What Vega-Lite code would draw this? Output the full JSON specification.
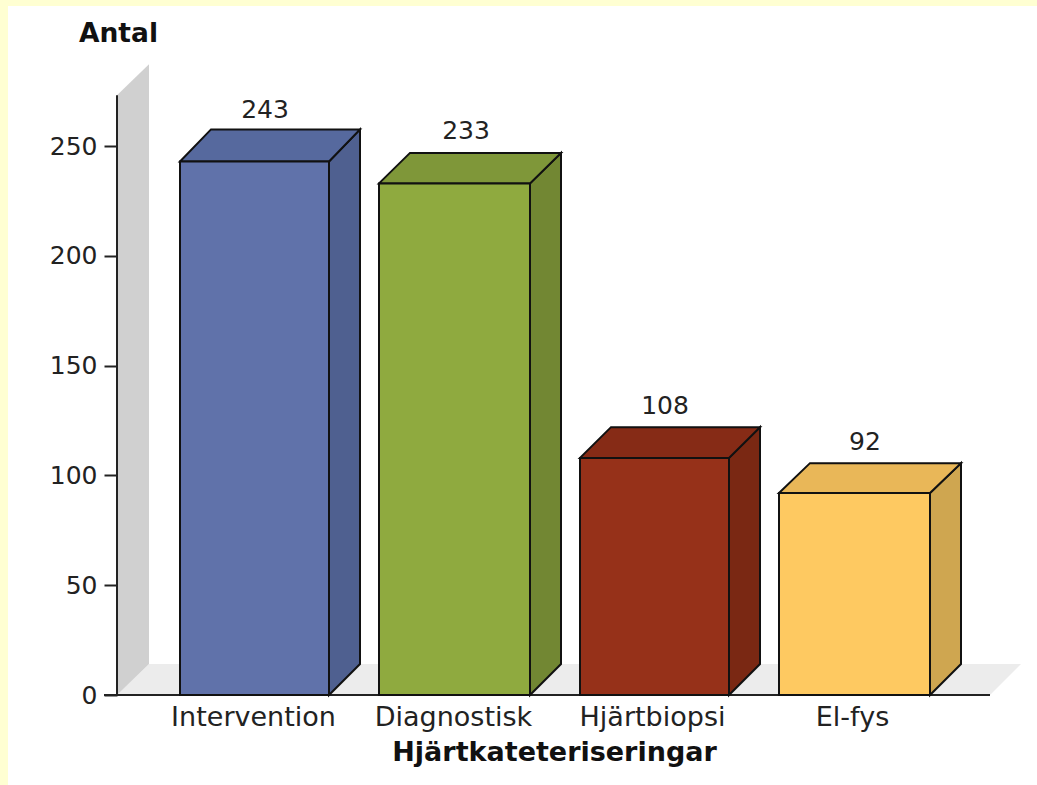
{
"$schema":"https://vega.github.io/schema/vega-lite/v6.json",
"width":1037,"height":785,"padding":0,"autosize":{"type":"none"},
"background":"#FFFFD2",
"config":{"view":{"stroke":null},"font":"DejaVu Sans"},
"datasets":{
"ram":[{"x":8,"x2":1037,"y":313.8,"y2":-41}],
"ytor":[
{"yta":"Golv","x":117,"u":0,"l":0},{"yta":"Golv","x":149,"u":14.1,"l":0},{"yta":"Golv","x":990,"u":14.1,"l":0},{"yta":"Golv","x":1021,"u":14.1,"l":14.1},
{"yta":"Vägg","x":117,"u":273.2,"l":0},{"yta":"Vägg","x":149,"u":287.3,"l":14.1}
],
"linjer":[{"x":117,"x2":117,"y":0,"y2":273.2},{"x":104,"x2":990,"y":0,"y2":0}],
"sidor":[
{"yta":"Intervention sida","x":329,"u":243,"l":0},{"yta":"Intervention sida","x":360,"u":257.6,"l":14.1},
{"yta":"Diagnostisk sida","x":530,"u":233,"l":0},{"yta":"Diagnostisk sida","x":561,"u":246.9,"l":14.1},
{"yta":"Hjärtbiopsi sida","x":729,"u":108,"l":0},{"yta":"Hjärtbiopsi sida","x":760,"u":122,"l":14.1},
{"yta":"El-fys sida","x":930,"u":92,"l":0},{"yta":"El-fys sida","x":961,"u":105.6,"l":14.1},
{"yta":"Intervention topp","x":180,"u":243,"l":243},{"yta":"Intervention topp","x":211,"u":257.6,"l":243},{"yta":"Intervention topp","x":329,"u":257.6,"l":243},{"yta":"Intervention topp","x":360,"u":257.6,"l":257.6},
{"yta":"Diagnostisk topp","x":379,"u":233,"l":233},{"yta":"Diagnostisk topp","x":410,"u":246.9,"l":233},{"yta":"Diagnostisk topp","x":530,"u":246.9,"l":233},{"yta":"Diagnostisk topp","x":561,"u":246.9,"l":246.9},
{"yta":"Hjärtbiopsi topp","x":580,"u":108,"l":108},{"yta":"Hjärtbiopsi topp","x":611,"u":122,"l":108},{"yta":"Hjärtbiopsi topp","x":729,"u":122,"l":108},{"yta":"Hjärtbiopsi topp","x":760,"u":122,"l":122},
{"yta":"El-fys topp","x":779,"u":92,"l":92},{"yta":"El-fys topp","x":810,"u":105.6,"l":92},{"yta":"El-fys topp","x":930,"u":105.6,"l":92},{"yta":"El-fys topp","x":961,"u":105.6,"l":105.6}
],
"staplar":[
{"kategori":"Intervention","antal":243,"bas":0,"x0":180,"x1":329,"mitt":265,"topp":257.6},
{"kategori":"Diagnostisk","antal":233,"bas":0,"x0":379,"x1":530,"mitt":466,"topp":248},
{"kategori":"Hjärtbiopsi","antal":108,"bas":0,"x0":580,"x1":729,"mitt":665,"topp":123},
{"kategori":"El-fys","antal":92,"bas":0,"x0":779,"x1":930,"mitt":865,"topp":106.6}
]
},
"layer":[
{"data":{"name":"ram"},"mark":{"type":"rect","fill":"#ffffff"},
 "encoding":{
  "x":{"field":"x","type":"quantitative","scale":{"domain":[0,1037],"nice":false,"zero":false},
   "axis":{"values":[253,453,652,852],"labelExpr":"datum.value==253?'Intervention':datum.value==453?'Diagnostisk':datum.value==652?'Hjärtbiopsi':'El-fys'","offset":-90,"domain":false,"ticks":false,"grid":false,"labelFontSize":27,"labelColor":"#222222","labelPadding":9,"labelFont":"DejaVu Sans","zindex":1,"title":"Hjärtkateteriseringar","titleFontSize":27,"titleFontWeight":"bold","titleColor":"#111111","titleX":554,"titleY":57,"titleAlign":"center","titleBaseline":"middle","labelOverlap":false,"labelFlush":false}},
  "x2":{"field":"x2"},
  "y":{"field":"y","type":"quantitative","scale":{"domain":[-40.98,316.53],"nice":false,"zero":false},
   "axis":{"values":[0,50,100,150,200,250],"offset":-117,"domain":false,"grid":false,"tickSize":13,"tickWidth":2,"tickColor":"#222222","labelFontSize":25,"labelColor":"#222222","labelPadding":7,"labelFont":"DejaVu Sans","zindex":1,"title":"Antal","titleAngle":0,"titleFontSize":26.5,"titleFontWeight":"bold","titleColor":"#111111","titleX":1,"titleY":33,"titleAlign":"center","titleBaseline":"middle"}},
  "y2":{"field":"y2"}}},
{"data":{"name":"ytor"},"mark":{"type":"area"},
 "encoding":{"x":{"field":"x","type":"quantitative"},"y":{"field":"u","type":"quantitative"},"y2":{"field":"l"},
  "fill":{"field":"yta","type":"nominal","legend":null,"scale":{"domain":["Golv","Vägg","Intervention","Intervention sida","Intervention topp","Diagnostisk","Diagnostisk sida","Diagnostisk topp","Hjärtbiopsi","Hjärtbiopsi sida","Hjärtbiopsi topp","El-fys","El-fys sida","El-fys topp"],"range":["#ECECEC","#D0D0D0","#6072AA","#4F6090","#56699E","#8FAA3F","#728733","#7F9739","#963119","#7A2813","#862B16","#FEC961","#CFA650","#E9B758"]}},
  "detail":{"field":"yta"}}},
{"data":{"name":"linjer"},"mark":{"type":"rule","stroke":"#222222","strokeWidth":2},
 "encoding":{"x":{"field":"x","type":"quantitative"},"x2":{"field":"x2"},"y":{"field":"y","type":"quantitative"},"y2":{"field":"y2"}}},
{"data":{"name":"sidor"},"mark":{"type":"area","stroke":"#111111","strokeWidth":2},
 "encoding":{"x":{"field":"x","type":"quantitative"},"y":{"field":"u","type":"quantitative"},"y2":{"field":"l"},
  "fill":{"field":"yta","type":"nominal","legend":null},"detail":{"field":"yta"}}},
{"data":{"name":"staplar"},"mark":{"type":"rect","stroke":"#111111","strokeWidth":2},
 "encoding":{"x":{"field":"x0","type":"quantitative"},"x2":{"field":"x1"},"y":{"field":"antal","type":"quantitative"},"y2":{"field":"bas"},
  "fill":{"field":"kategori","type":"nominal","legend":null}}},
{"data":{"name":"staplar"},"mark":{"type":"text","fontSize":25,"fill":"#222222","baseline":"bottom","dy":-6,"font":"DejaVu Sans"},
 "encoding":{"x":{"field":"mitt","type":"quantitative"},"y":{"field":"topp","type":"quantitative"},"text":{"field":"antal","type":"quantitative"}}}
]
}
